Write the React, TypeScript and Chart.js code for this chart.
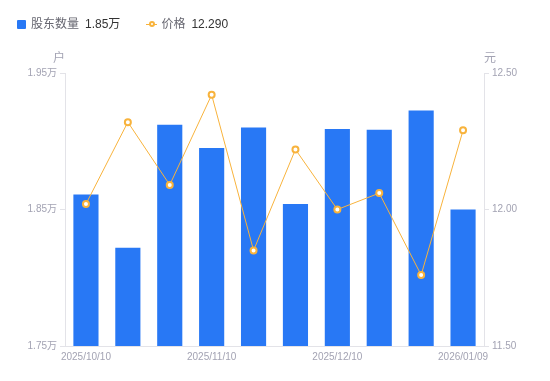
import React, { useEffect, useRef } from "react";
import { Chart, registerables } from "chart.js";

Chart.register(...registerables);

const categories = [
  "2025/10/10", "2025/10/20", "2025/10/31", "2025/11/10", "2025/11/20",
  "2025/11/28", "2025/12/10", "2025/12/19", "2025/12/31", "2026/01/09",
];
const holders = [18610, 18220, 19120, 18950, 19100, 18540, 19090, 19085, 19225, 18500];
const prices = [12.02, 12.32, 12.09, 12.42, 11.85, 12.22, 12.0, 12.06, 11.76, 12.29];
const leftTicks = [17500, 18500, 19500];
const rightTicks = [11.5, 12.0, 12.5];

const FONT = '"Liberation Sans", "Noto Sans CJK SC", sans-serif';
const BLUE = "#2878F5";
const ORANGE = "#F8B33C";
const TICK = "#A3A3B3";

export default function App() {
  const ref = useRef<HTMLCanvasElement | null>(null);
  useEffect(() => {
    if (!ref.current) return;
    const chart = new Chart(ref.current, {
      data: {
        labels: categories,
        datasets: [
          {
            type: "line",
            label: "价格",
            data: prices,
            yAxisID: "y1",
            borderColor: ORANGE,
            borderWidth: 1,
            pointRadius: 3,
            pointBorderWidth: 2,
            pointBackgroundColor: "#ffffff",
            pointBorderColor: ORANGE,
            tension: 0,
            order: 0,
          },
          {
            type: "bar",
            label: "股东数量",
            data: holders,
            yAxisID: "y",
            backgroundColor: BLUE,
            categoryPercentage: 0.6,
            barPercentage: 1,
            order: 1,
          },
        ],
      },
      options: {
        animation: false,
        responsive: true,
        maintainAspectRatio: false,
        layout: { padding: { top: 73, left: 0, right: 0, bottom: 0 } },
        plugins: { legend: { display: false }, tooltip: { enabled: false } },
        scales: {
          x: {
            grid: { display: false, drawTicks: false, tickLength: 0 },
            border: { display: true, color: "#E3E3E8" },
            ticks: {
              autoSkip: false,
              maxRotation: 0,
              padding: 5,
              color: TICK,
              font: { family: FONT, size: 10 },
              callback: (_v: any, i: number) => (i % 3 === 0 ? categories[i] : ""),
            },
            afterFit: (s: any) => { s.height = 35; },
          },
          y: {
            position: "left",
            min: 17500,
            max: 19500,
            afterBuildTicks: (s: any) => { s.ticks = leftTicks.map((v) => ({ value: v })); },
            grid: { drawOnChartArea: false, tickLength: 5, color: "#E3E3E8" },
            border: { display: true, color: "#E3E3E8" },
            ticks: {
              color: TICK,
              padding: 3,
              font: { family: FONT, size: 10 },
              callback: (v: any) => (Number(v) / 10000).toFixed(2) + "万",
            },
            afterFit: (s: any) => { s.width = 65; },
          },
          y1: {
            position: "right",
            min: 11.5,
            max: 12.5,
            afterBuildTicks: (s: any) => { s.ticks = rightTicks.map((v) => ({ value: v })); },
            grid: { drawOnChartArea: false, tickLength: 5, color: "#E3E3E8" },
            border: { display: true, color: "#E3E3E8" },
            ticks: {
              color: TICK,
              padding: 3,
              font: { family: FONT, size: 10 },
              callback: (v: any) => Number(v).toFixed(2),
            },
            afterFit: (s: any) => { s.width = 66; },
          },
        },
      },
    });
    return () => chart.destroy();
  }, []);

  const grey = "#666670";
  const dark = "#333333";
  return (
    <div style={{ position: "fixed", left: 0, top: 0, width: 550, height: 381, background: "#fff", fontFamily: FONT }}>
      <div style={{ position: "absolute", left: 0, top: 0, width: 550, height: 381 }}>
        <canvas ref={ref} />
      </div>
      <div style={{ position: "absolute", left: 17, top: 15, display: "flex", alignItems: "center", fontSize: 12, lineHeight: "18px" }}>
        <span style={{ display: "inline-block", width: 9, height: 9, background: BLUE, borderRadius: 1, marginRight: 5 }} />
        <span style={{ color: grey }}>股东数量</span>
        <span style={{ color: dark, marginLeft: 6 }}>1.85万</span>
        <span style={{ position: "relative", display: "inline-block", width: 11, height: 10, marginLeft: 26, marginRight: 4 }}>
          <span style={{ position: "absolute", left: 0, top: 4.5, width: 11, height: 1, background: ORANGE }} />
          <span style={{ position: "absolute", left: 2.5, top: 2, width: 2, height: 2, border: `2px solid ${ORANGE}`, borderRadius: "50%", background: "#fff" }} />
        </span>
        <span style={{ color: grey }}>价格</span>
        <span style={{ color: dark, marginLeft: 6 }}>12.290</span>
      </div>
      <div style={{ position: "absolute", left: 53, top: 48, fontSize: 12, color: TICK }}>户</div>
      <div style={{ position: "absolute", left: 484, top: 48, fontSize: 12, color: TICK }}>元</div>
    </div>
  );
}
